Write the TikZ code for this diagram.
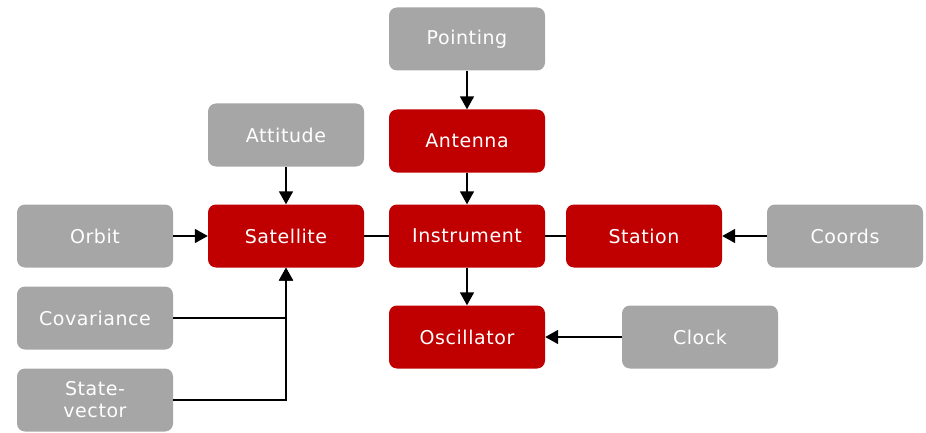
\documentclass[tikz,border=0pt]{standalone}
\usepackage{fontspec}
\setmainfont[LetterSpace=3]{DejaVu Sans}
\usetikzlibrary{arrows.meta}
\definecolor{boxred}{HTML}{C00000}
\definecolor{boxgray}{HTML}{A6A6A6}
\begin{document}
\begin{tikzpicture}[x=1pt,y=-1pt,
  base/.style={rounded corners=8pt, minimum width=156pt, minimum height=63pt,
    inner sep=2pt, text=white, align=center, font=\fontsize{19}{22}\selectfont},
  redbox/.style={base, fill=boxred},
  graybox/.style={base, fill=boxgray},
  conn/.style={line width=1.7pt, black},
  arr/.style={conn, -{Triangle[length=13pt,width=14pt]}}]
\useasboundingbox (0,0) rectangle (926,433);
\node[graybox] (point) at (467,39) {Pointing};
\node[redbox] (ant) at (467,141) {Antenna};
\node[graybox] (att) at (286,135) {Attitude};
\node[graybox] (orbit) at (95,236) {Orbit};
\node[redbox] (sat) at (286,236) {Satellite};
\node[redbox] (inst) at (467,236) {Instrument};
\node[redbox] (stat) at (644,236) {Station};
\node[graybox] (coords) at (845,236) {Coords};
\node[graybox] (cov) at (95,318) {Covariance};
\node[redbox] (osc) at (467,337) {Oscillator};
\node[graybox] (clock) at (700,337) {Clock};
\node[graybox] (sv) at (95,400) {State-\\vector};
\draw[arr] (point) -- (ant);
\draw[arr] (ant) -- (inst);
\draw[arr] (att) -- (sat);
\draw[arr] (orbit) -- (sat);
\draw[conn] (sat) -- (inst);
\draw[conn] (inst) -- (stat);
\draw[arr] (coords) -- (stat);
\draw[arr] (inst) -- (osc);
\draw[arr] (clock) -- (osc);
\draw[arr] (cov.east) -| (sat.south);
\draw[arr] (sv.east) -| (sat.south);
\end{tikzpicture}
\end{document}
